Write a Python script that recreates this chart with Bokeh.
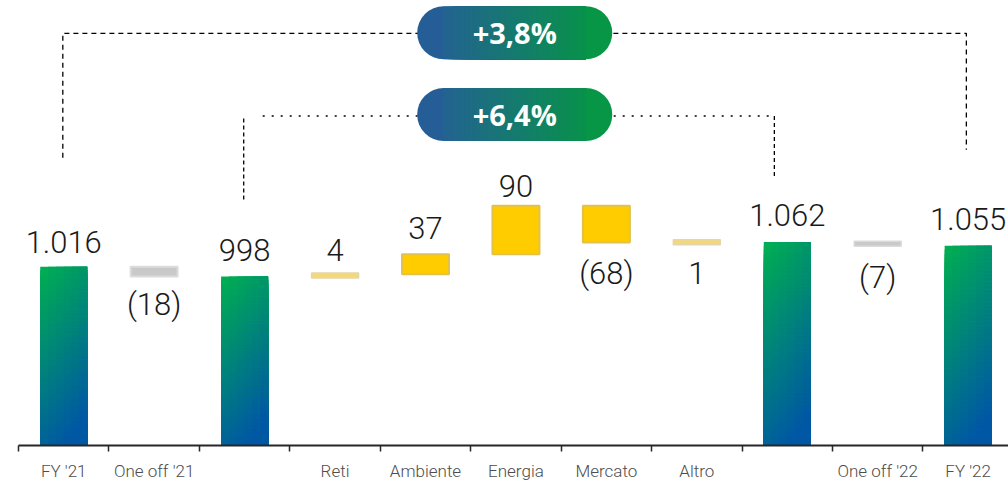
from bokeh.plotting import figure
from bokeh.models import Range1d, FixedTicker, ColumnDataSource
from bokeh.core.properties import value
from bokeh.embed import file_html
from bokeh.resources import INLINE

# ---------------- data ----------------
categories = ["FY '21", "One off '21", "", "Reti", "Ambiente", "Energia",
              "Mercato", "Altro", "", "One off '22", "FY '22"]
kinds = ["total", "oneoff", "total", "delta", "delta", "delta",
         "delta", "delta", "total", "oneoff", "total"]
values = [1016, -18, 998, 4, 37, 90, -68, 1, 1062, -7, 1055]
label_side = ["above", "below", "above", "above", "above", "above",
              "below", "below", "above", "below", "above"]
label_gap = [25, 28, 26, 24, 26, 20, 31, 31, 27, 32, 27]

# ---------------- layout constants ----------------
W, H = 1008, 483
LEFT_PAD = 18
FRAME_H = 447
BASE = 685.0
TOP = BASE + FRAME_H / 0.5424
XEND = 10.946
PX_PER_U = (W - LEFT_PAD) / XEND
BAR_W = 0.52
MIN_PX = 5

VALUE_FONT = value("Roboto Light")

def fmt(v):
    s = f"{abs(v):,}".replace(",", ".")
    return f"({s})" if v < 0 else s

def pct(a, b):
    return "+" + f"{(b / a - 1) * 100:.1f}".replace(".", ",") + "%"

def lerp_hex(c1, c2, t):
    t = max(0.0, min(1.0, t))
    a = [int(c1[i:i + 2], 16) for i in (1, 3, 5)]
    b = [int(c2[i:i + 2], 16) for i in (1, 3, 5)]
    return "#%02x%02x%02x" % tuple(round(a[k] + (b[k] - a[k]) * t) for k in range(3))

# waterfall geometry from data
centers = [i + 0.5 for i in range(len(categories))]
starts, ends = [], []
running = 0
for k, v in zip(kinds, values):
    if k == "total":
        starts.append(BASE)
        ends.append(v)
        running = v
    else:
        starts.append(running)
        running = running + v
        ends.append(running)

p = figure(width=W, height=H, x_range=Range1d(0, XEND), y_range=Range1d(BASE, TOP),
           output_backend="svg", toolbar_location=None, y_axis_location=None,
           min_border_left=LEFT_PAD, min_border_right=0, min_border_top=0,
           min_border_bottom=H - FRAME_H)
p.outline_line_color = None
p.xgrid.visible = False
p.ygrid.visible = False
p.extra_y_ranges = {"px": Range1d(start=FRAME_H, end=0)}

# ---------------- total bars with diagonal gradient (painter's overlap, no seams) ----------------
ROWS, COLS = 50, 6
gl, gr, gb, gt, gc = [], [], [], [], []
for i, k in enumerate(kinds):
    if k != "total":
        continue
    top = ends[i]
    left, right = centers[i] - BAR_W / 2, centers[i] + BAR_W / 2
    for r in range(ROWS):
        v = (r + 0.5) / ROWS
        for c in range(COLS):
            u = (c + 0.5) / COLS
            gl.append(left + (right - left) * c / COLS)
            gr.append(right)
            gt.append(top - (top - BASE) * r / ROWS)
            gb.append(BASE)
            gc.append(lerp_hex("#00b050", "#0057a4", 0.85 * v + 0.3 * u))
p.quad(left=gl, right=gr, top=gt, bottom=gb, fill_color=gc, line_color=None)

# ---------------- floating bars ----------------
K = FRAME_H / (TOP - BASE)
big = dict(l=[], r=[], t=[], b=[], f=[], c=[])
small = dict(x=[], y=[], f=[], c=[])
for i, k in enumerate(kinds):
    if k == "total":
        continue
    lo, hi = min(starts[i], ends[i]), max(starts[i], ends[i])
    if k == "oneoff":
        f, c = "#c9c9c9", "#dcdcdc"
    else:
        f, c = ("#ffcc00", "#e2c24a") if (hi - lo) * K >= MIN_PX else ("#f4d877", "#e3d6ac")
    if (hi - lo) * K >= MIN_PX:
        big["l"].append(centers[i] - BAR_W / 2); big["r"].append(centers[i] + BAR_W / 2)
        big["t"].append(hi); big["b"].append(lo); big["f"].append(f); big["c"].append(c)
    else:
        small["x"].append(centers[i]); small["y"].append((lo + hi) / 2)
        small["f"].append(f); small["c"].append(c)
p.quad(left="l", right="r", top="t", bottom="b", fill_color="f", line_color="c",
       line_width=2, source=ColumnDataSource(big))
p.rect(x="x", y="y", width=BAR_W, height=MIN_PX, height_units="screen",
       fill_color="f", line_color="c", line_width=1.5, source=ColumnDataSource(small))

# ---------------- value labels ----------------
ly, loff = [], []
for i in range(len(values)):
    lo, hi = min(starts[i], ends[i]), max(starts[i], ends[i])
    if label_side[i] == "above":
        ly.append(hi); loff.append(-label_gap[i])
    else:
        ly.append(lo); loff.append(label_gap[i])
lab_src = ColumnDataSource(dict(x=centers, y=ly, off=loff, text=[fmt(v) for v in values]))
p.text(x="x", y="y", text="text", y_offset="off", source=lab_src,
       text_font=VALUE_FONT, text_font_size="31px", text_align="center",
       text_baseline="alphabetic", text_color="#1a1a1a")

# ---------------- brackets ----------------
p.line(x=[centers[0] - 0.01, centers[0] - 0.01, centers[10] - 0.02, centers[10] - 0.02],
       y=[158, 33, 33, 150], y_range_name="px",
       line_color="black", line_width=1.3, line_dash="5 4")
p.line(x=[centers[2] - 0.01, centers[2] - 0.01], y=[200, 116], y_range_name="px",
       line_color="black", line_width=1.3, line_dash="4 3")
p.line(x=[centers[2] + 0.2, centers[8] - 0.143], y=[116, 116], y_range_name="px",
       line_color="black", line_width=1.3, line_dash="2 7")
p.line(x=[centers[8] - 0.143, centers[8] - 0.143], y=[116, 178], y_range_name="px",
       line_color="black", line_width=1.3, line_dash="4 3")

# ---------------- gradient pills ----------------
PILL_L, PILL_R = 4.408, 6.565
R_PX = 26.5
R_U = R_PX / PX_PER_U
C_LEFT, C_RIGHT = "#285a9e", "#039a3e"
for cy, txt in [(32.5, pct(values[0], values[10])), (114.5, pct(values[2], values[8]))]:
    xa, xb = PILL_L + R_U, PILL_R - R_U
    M = 60
    sl, sr, sc = [], [], []
    for j in range(M):
        x0 = xa + (xb - xa) * j / M
        sl.append(x0); sr.append(xb)
        sc.append(lerp_hex(C_LEFT, C_RIGHT, (x0 + (xb - xa) / (2 * M) - PILL_L) / (PILL_R - PILL_L)))
    p.scatter(x=[xa, xb], y=[cy, cy], marker="circle", size=2 * R_PX,
              fill_color=[lerp_hex(C_LEFT, C_RIGHT, 0.07), lerp_hex(C_LEFT, C_RIGHT, 0.93)],
              line_color=None, y_range_name="px")
    p.quad(left=sl, right=sr, top=[cy - R_PX] * M, bottom=[cy + R_PX] * M,
           fill_color=sc, line_color=None, y_range_name="px")
    p.text(x=[(PILL_L + PILL_R) / 2], y=[cy], text=[txt], y_offset=0, y_range_name="px",
           text_font=value("Open Sans"), text_font_style="bold", text_font_size="29px",
           text_align="center", text_baseline="alphabetic", text_color="white")

# ---------------- axis ----------------
ax = p.xaxis[0]
ax.ticker = FixedTicker(ticks=centers, minor_ticks=list(range(len(categories) + 1)))
ax.major_label_overrides = {c: name for c, name in zip(centers, categories)}
ax.axis_line_color = "#262626"
ax.axis_line_width = 2
ax.major_tick_line_color = None
ax.major_tick_out = 0
ax.major_tick_in = 0
ax.minor_tick_line_color = "#262626"
ax.minor_tick_line_width = 1.5
ax.minor_tick_out = 6
ax.minor_tick_in = 0
ax.major_label_standoff = 9
ax.major_label_text_font = "Roboto Light"
ax.major_label_text_font_size = "17px"
ax.major_label_text_color = "#4d4d4d"

open("out.html", "w").write(file_html(p, INLINE))
